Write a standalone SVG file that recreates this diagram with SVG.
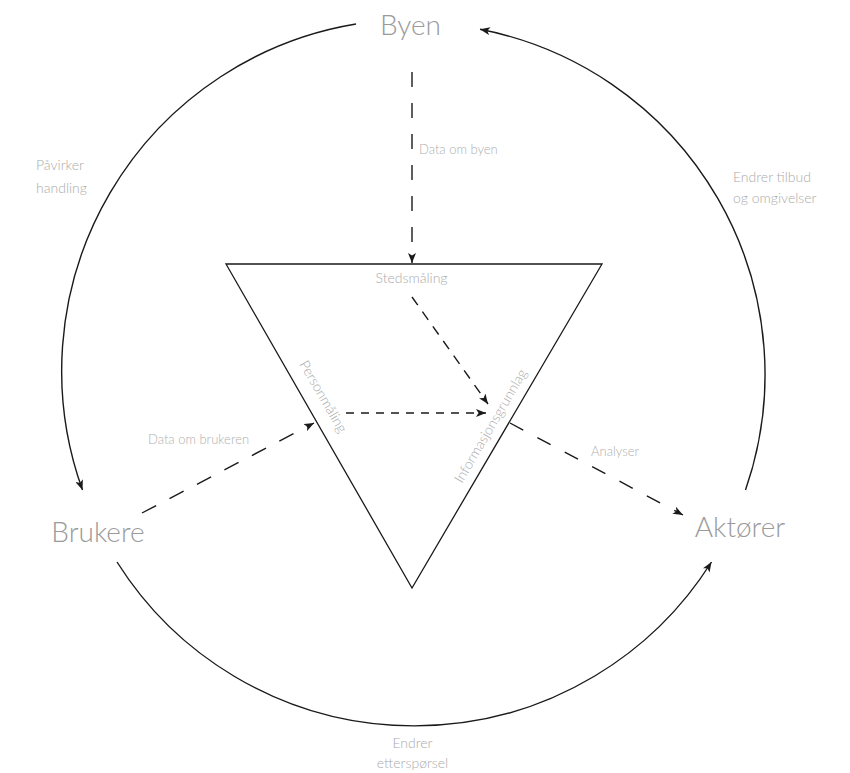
<svg xmlns="http://www.w3.org/2000/svg" width="850" height="773" viewBox="0 0 850 773">
<defs>
<marker id="ah" viewBox="0 0 10 8" markerWidth="10" markerHeight="8" refX="10" refY="4" orient="auto" markerUnits="userSpaceOnUse">
<path d="M0,0 L10,4 L0,8 L2.5,4 Z" fill="#1a1a1a"/>
</marker>
</defs>
<style>
.big{font-family:Lato,"Liberation Sans",sans-serif;font-weight:300;font-size:28px;fill:#9a9a9a}
.lbl{font-family:Lato,"Liberation Sans",sans-serif;font-weight:300;font-size:14px;fill:#ababab}
.sm{font-family:Lato,"Liberation Sans",sans-serif;font-weight:300;font-size:13px;fill:#b0b0b0}
.arc{fill:none;stroke:#1a1a1a;stroke-width:1.4}
.dash{fill:none;stroke:#1a1a1a;stroke-width:1.4}
.tri{fill:none;stroke:#1a1a1a;stroke-width:1.3}
</style>
<rect width="850" height="773" fill="#ffffff"/>
<g id="connectors">
<path class="arc" d="M356,24 A351.5,351.5 0 0 0 82.5,490" marker-end="url(#ah)"/>
<path class="arc" d="M745.5,490 A351.5,351.5 0 0 0 480,29.3" marker-end="url(#ah)"/>
<path class="arc" d="M117,562 A351.5,351.5 0 0 0 711.5,562" marker-end="url(#ah)"/>
<path class="dash" d="M412,72 L412,263" stroke-dasharray="15 16" marker-end="url(#ah)"/>
<path class="dash" d="M412,297 L488,404" stroke-dasharray="10 8" marker-end="url(#ah)"/>
<path class="dash" d="M346,413 L486,413" stroke-dasharray="8 7" marker-end="url(#ah)"/>
<path class="dash" d="M142,513 L314,423" stroke-dasharray="16 15" marker-end="url(#ah)"/>
<path class="dash" d="M510,423 L683,515" stroke-dasharray="15 16" marker-end="url(#ah)"/>
<text class="sm" x="419" y="154">Data om byen</text>
<text class="sm" x="148" y="444">Data om brukeren</text>
<text class="sm" x="591" y="456">Analyser</text>
<text class="lbl" x="36" y="170">Påvirker</text>
<text class="lbl" x="36" y="193">handling</text>
<text class="lbl" x="733" y="182">Endrer tilbud</text>
<text class="lbl" x="733" y="203">og omgivelser</text>
<text class="lbl" x="412.5" y="748" text-anchor="middle">Endrer</text>
<text class="lbl" x="412.5" y="768" text-anchor="middle">etterspørsel</text>
</g>
<g id="triangle">
<path class="tri" d="M226,264 L602,264 L412,588 Z"/>
<text class="lbl" x="411.5" y="283" text-anchor="middle" font-size="15">Stedsmåling</text>
<text class="lbl" transform="translate(299,364) rotate(60)" font-size="16">Personmåling</text>
<text class="lbl" transform="translate(462,484) rotate(-59.6)" font-size="16">Informasjonsgrunnlag</text>
</g>
<g id="byen"><text class="big" x="410.5" y="35" text-anchor="middle">Byen</text></g>
<g id="brukere"><text class="big" x="98" y="542" text-anchor="middle">Brukere</text></g>
<g id="aktorer"><text class="big" x="740" y="537" text-anchor="middle">Aktører</text></g>
</svg>
